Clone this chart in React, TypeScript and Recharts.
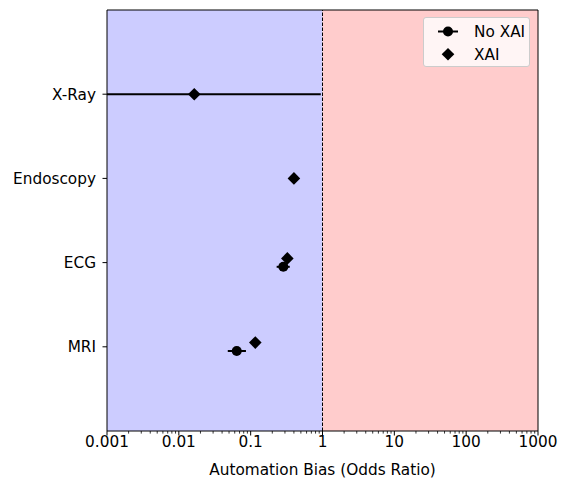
import React from "react";
import {
  ScatterChart,
  Scatter,
  XAxis,
  YAxis,
  ErrorBar,
  ReferenceArea,
  ReferenceLine,
} from "recharts";

const categories = ["MRI", "ECG", "Endoscopy", "X-Ray"];

const xaiOdds = [0.116, 0.324, 0.4, 0.0164];
const xaiLow = [0.116, 0.324, 0.4, 0.001];
const xaiHigh = [0.116, 0.324, 0.4, 0.946];

const noXaiOdds: (number | null)[] = [0.064, 0.285, null, null];
const noXaiLow: (number | null)[] = [0.048, 0.23, null, null];
const noXaiHigh: (number | null)[] = [0.086, 0.35, null, null];

const majorTicks = [0.001, 0.01, 0.1, 1, 10, 100, 1000];
const majorLabels = ["0.001", "0.01", "0.1", "1", "10", "100", "1000"];
const minorTicks = majorTicks
  .slice(0, -1)
  .flatMap((d) => [2, 3, 4, 5, 6, 7, 8, 9].map((m) => +(d * m).toPrecision(3)));
const allTicks = [...majorTicks, ...minorTicks].sort((a, b) => a - b);

const FONT = "DejaVu Sans, sans-serif";
const FS = 15.3;
const OFFSET = 0.05;

const bothPresent = (i: number) => noXaiOdds[i] != null;

const xaiData = categories.map((c, i) => ({
  name: c,
  x: xaiOdds[i],
  y: i + 1 + (bothPresent(i) ? OFFSET : 0),
  err: [xaiOdds[i] - xaiLow[i], xaiHigh[i] - xaiOdds[i]],
}));

const noXaiData = categories
  .map((c, i) => ({ c, i }))
  .filter(({ i }) => noXaiOdds[i] != null)
  .map(({ c, i }) => ({
    name: c,
    x: noXaiOdds[i] as number,
    y: i + 1 - OFFSET,
    err: [
      (noXaiOdds[i] as number) - (noXaiLow[i] as number),
      (noXaiHigh[i] as number) - (noXaiOdds[i] as number),
    ],
  }));

const Diamond = (props: any) => {
  const { cx, cy } = props;
  const r = 6.3;
  return (
    <path
      d={`M${cx},${cy - r}L${cx + r},${cy}L${cx},${cy + r}L${cx - r},${cy}Z`}
      fill="#000"
    />
  );
};

const Dot = (props: any) => {
  const { cx, cy } = props;
  return <circle cx={cx} cy={cy} r={5} fill="#000" />;
};

const XTick = (props: any) => {
  const { x, y, payload } = props;
  const idx = majorTicks.indexOf(payload.value);
  const major = idx >= 0;
  return (
    <g>
      <line x1={x} x2={x} y1={y} y2={y + (major ? 4.5 : 2.6)} stroke="#000" strokeWidth={major ? 1 : 0.8} />
      {major && (
        <text x={x} y={y + 16} textAnchor="middle" fontSize={FS} fontFamily={FONT} fill="#000">
          {majorLabels[idx]}
        </text>
      )}
    </g>
  );
};

const YTick = (props: any) => {
  const { x, y, payload } = props;
  return (
    <g>
      <line x1={x - 4.5} x2={x} y1={y} y2={y} stroke="#000" />
      <text x={x - 11} y={y + 5.5} textAnchor="end" fontSize={FS} fontFamily={FONT} fill="#000">
        {categories[payload.value - 1]}
      </text>
    </g>
  );
};

const App = () => {
  return (
    <div style={{ position: "absolute", left: 0, top: 0, width: 564, height: 481 }}>
      <ScatterChart width={564} height={481} margin={{ top: 10, right: 26, bottom: 0, left: 0 }}>
        <ReferenceArea x1={0.001} x2={1} y1={0} y2={5} fill="#ccccff" fillOpacity={1} stroke="none" />
        <ReferenceArea x1={1} x2={1000} y1={0} y2={5} fill="#ffcccc" fillOpacity={1} stroke="none" />
        <ReferenceLine x={1} stroke="#000" strokeDasharray="3.5 1.5" strokeWidth={1} />
        <XAxis
          type="number"
          dataKey="x"
          scale="log"
          domain={[0.001, 1000]}
          allowDataOverflow
          ticks={allTicks}
          interval={0}
          tick={<XTick />}
          tickLine={false}
          tickSize={0}
          tickMargin={0}
          height={50}
          stroke="#000"
          label={{
            value: "Automation Bias (Odds Ratio)",
            position: "insideBottom",
            offset: 6,
            fontSize: FS,
            fontFamily: FONT,
            fill: "#000",
          }}
        />
        <YAxis
          type="number"
          dataKey="y"
          domain={[0, 5]}
          ticks={[1, 2, 3, 4]}
          interval={0}
          tick={<YTick />}
          tickLine={false}
          tickSize={0}
          tickMargin={0}
          width={107}
          stroke="#000"
        />
        <ReferenceLine y={5} stroke="#000" ifOverflow="visible" />
        <ReferenceLine x={1000} stroke="#000" ifOverflow="visible" />
        <Scatter name="No XAI" data={noXaiData} shape={<Dot />} isAnimationActive={false}>
          <ErrorBar dataKey="err" direction="x" width={0} stroke="#000" strokeWidth={2} />
        </Scatter>
        <Scatter name="XAI" data={xaiData} shape={<Diamond />} isAnimationActive={false}>
          <ErrorBar dataKey="err" direction="x" width={0} stroke="#000" strokeWidth={2} />
        </Scatter>
      </ScatterChart>
      <div
        style={{
          position: "absolute",
          left: 423,
          top: 17,
          width: 105,
          height: 48,
          background: "rgba(255,255,255,0.8)",
          border: "1px solid #cccccc",
          borderRadius: 3,
          fontFamily: FONT,
          fontSize: FS,
        }}
      >
        <svg width={105} height={48} style={{ position: "absolute", left: 0, top: 0 }}>
          <line x1={14} x2={34} y1={13.5} y2={13.5} stroke="#000" strokeWidth={2} />
          <circle cx={24} cy={13.5} r={5} fill="#000" />
          <path d="M24,30 L30.3,36.3 L24,42.6 L17.7,36.3 Z" fill="#000" />
          <text x={50} y={19} fontSize={FS} fontFamily={FONT} fill="#000">No XAI</text>
          <text x={50} y={42} fontSize={FS} fontFamily={FONT} fill="#000">XAI</text>
        </svg>
      </div>
    </div>
  );
};

export default App;
